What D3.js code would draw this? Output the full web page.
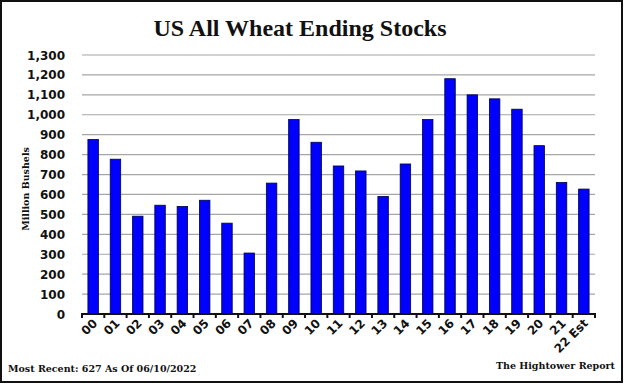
<html>
<head>
<meta charset="utf-8">
<title>US All Wheat Ending Stocks</title>
<style>
    body { margin: 0; padding: 0; background: white; }
    .grid line { stroke: #a6a6a6; stroke-width: 1.2; }
    .bar { fill: #0000ff; stroke: #000040; stroke-width: 0.8; }
    .ylab { font-family: "DejaVu Sans", sans-serif; font-weight: bold; font-size: 12px; fill: #111; }
    .xlab { font-family: "DejaVu Sans", sans-serif; font-weight: bold; font-size: 12px; fill: #111; }
    .serif { font-family: "Liberation Serif", serif; font-weight: bold; fill: #111; }
    .small { font-family: "DejaVu Serif", serif; font-weight: bold; font-size: 9.5px; fill: #111; }
</style>
</head>
<body>
<div id="chart"></div>
<script src="https://d3js.org/d3.v7.min.js"></script>
<script>
// marketing years, ending stocks in million bushels
var years = ["00","01","02","03","04","05","06","07","08","09","10","11",
             "12","13","14","15","16","17","18","19","20","21","22 Est"];
var stocks = [876, 777, 491, 546, 540, 571, 456, 306, 657, 976, 862, 743,
              718, 590, 753, 976, 1181, 1100, 1080, 1028, 845, 660, 627];
var yTicks = [0,100,200,300,400,500,600,700,800,900,1000,1100,1200,1300];

var width = 624, height = 384;
var plot = {left: 82, right: 595, top: 55, bottom: 314};

var svg = d3.select("#chart").append("svg")
    .attr("width", width)
    .attr("height", height);

// outer frame
svg.append("rect")
    .attr("x", 1).attr("y", 1)
    .attr("width", 621).attr("height", 381)
    .attr("fill", "white")
    .attr("stroke", "#111")
    .attr("stroke-width", 2);

var x = d3.scaleBand()
    .domain(years)
    .range([plot.left, plot.right])
    .paddingInner(0.53)
    .paddingOuter(0.265);

var y = d3.scaleLinear()
    .domain([0, 1300])
    .range([plot.bottom, plot.top]);

// gridlines
svg.append("g").attr("class", "grid")
    .selectAll("line")
    .data(yTicks.slice(1))
    .enter().append("line")
    .attr("x1", plot.left).attr("x2", plot.right)
    .attr("y1", d => y(d)).attr("y2", d => y(d));

// y labels
svg.append("g")
    .selectAll("text")
    .data(yTicks)
    .enter().append("text")
    .attr("class", "ylab")
    .attr("x", 65)
    .attr("y", d => y(d) + 4.5)
    .attr("text-anchor", "end")
    .text(d => d3.format(",")(d));

// bars
svg.append("g")
    .selectAll("rect")
    .data(stocks)
    .enter().append("rect")
    .attr("class", "bar")
    .attr("x", (d, i) => x(years[i]))
    .attr("width", x.bandwidth())
    .attr("y", d => y(d))
    .attr("height", d => y(0) - y(d));

// x axis line + ticks between bands
svg.append("line")
    .attr("x1", plot.left).attr("x2", plot.right)
    .attr("y1", plot.bottom).attr("y2", plot.bottom)
    .attr("stroke", "#111").attr("stroke-width", 2);

var step = x.step();
svg.append("g")
    .selectAll("line")
    .data(d3.range(years.length + 1))
    .enter().append("line")
    .attr("x1", i => plot.left + i * step)
    .attr("x2", i => plot.left + i * step)
    .attr("y1", plot.bottom - 1).attr("y2", plot.bottom + 4)
    .attr("stroke", "#111").attr("stroke-width", 2);

// x labels, rotated
svg.append("g")
    .selectAll("text")
    .data(years)
    .enter().append("text")
    .attr("class", "xlab")
    .attr("text-anchor", "end")
    .attr("transform", d => "translate(" + (x(d) + x.bandwidth() / 2 + 5) + "," + (plot.bottom + 10) + ") rotate(-45)")
    .text(d => d);

// title
svg.append("text")
    .attr("class", "serif")
    .attr("x", 300).attr("y", 36)
    .attr("text-anchor", "middle")
    .style("font-size", "24px")
    .text("US All Wheat Ending Stocks");

// y axis title
svg.append("text")
    .attr("class", "small")
    .attr("text-anchor", "middle")
    .attr("transform", "translate(29,189) rotate(-90)")
    .text("Million Bushels");

// footer
svg.append("text")
    .attr("class", "small")
    .attr("x", 8).attr("y", 372)
    .text("Most Recent: 627 As Of 06/10/2022");

svg.append("text")
    .attr("class", "small")
    .attr("x", 615).attr("y", 369)
    .attr("text-anchor", "end")
    .text("The Hightower Report");
</script>
</body>
</html>
